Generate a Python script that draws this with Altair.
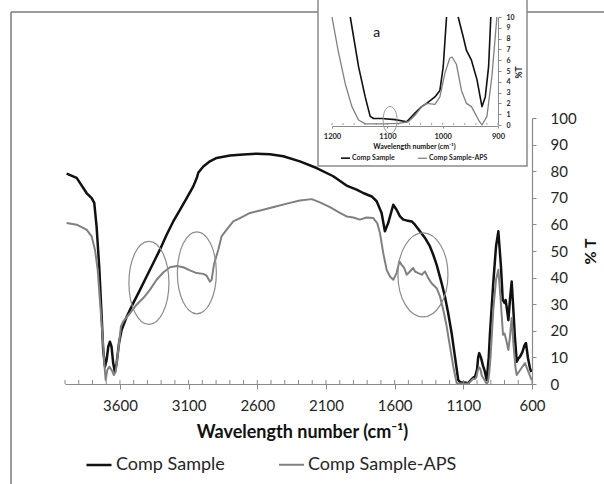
import altair as alt
import pandas as pd

W, H = 604, 484
FONT = "Lato"
AXIS_GRAY = "#8a8a8a"
TEXT = "#262626"

series = ["Comp Sample", "Comp Sample-APS"]
colors = ["#111111", "#808080"]

# ---------------- main spectrum (wavenumber, %T) ----------------
black_wn = [3988, 3915, 3843, 3806, 3787, 3770, 3751, 3733, 3722, 3709, 3697, 3685, 3673, 3661,
            3649, 3637, 3624, 3607, 3588, 3551, 3503, 3454, 3406, 3357, 3309, 3260, 3212, 3163,
            3114, 3066, 3040, 3030, 2993, 2945, 2896, 2799, 2702, 2605, 2508, 2411, 2290, 2168,
            2047, 1950, 1877, 1829, 1767, 1731, 1695, 1671, 1647, 1610, 1586, 1561, 1537, 1513,
            1476, 1452, 1416, 1379, 1343, 1319, 1294, 1258, 1234, 1210, 1185, 1161, 1137, 1120,
            1100, 1080, 1064, 1050, 1030, 1014, 1000, 992, 984, 972, 957, 945, 930, 915, 906,
            882, 862, 845, 826, 813, 800, 792, 782, 772, 760, 748, 738, 725, 711, 700, 687, 670,
            655, 644, 630, 615, 605]
black_t = [79.1, 77.5, 71.8, 69.9, 68.1, 59.2, 44.2, 25.3, 12.8, 6.5, 9.0, 14.0, 15.9, 14.0,
           7.8, 4.6, 7.8, 15.3, 20.3, 25.3, 30.4, 35.4, 40.4, 45.5, 50.5, 56.1, 61.1, 65.5,
           69.9, 74.3, 77.5, 79.4, 81.8, 83.7, 85.0, 85.9, 86.3, 86.6, 86.4, 85.6, 83.7, 81.2,
           78.1, 74.6, 73.1, 71.8, 70.5, 68.7, 64.3, 57.4, 60.5, 67.4, 65.5, 63.0, 61.8, 61.5,
           61.1, 59.9, 57.4, 54.9, 51.7, 48.6, 44.8, 37.9, 32.9, 26.6, 19.1, 10.3, 1.5, 0.6,
           0.6, 0.5, 0.3, 1.2, 2.3, 2.8, 5.5, 10.0, 11.6, 10.0, 6.9, 5.0, 1.5, 10.0, 19.0,
           38.0, 51.7, 57.4, 44.2, 31.6, 30.5, 31.6, 28.0, 24.0, 32.0, 38.5, 30.0, 18.0, 8.4, 9.5,
           10.3, 12.0, 14.5, 15.4, 10.0, 6.0, 4.5]

gray_wn = [3988, 3915, 3843, 3806, 3782, 3762, 3746, 3726, 3714, 3704, 3692, 3678, 3661, 3644,
           3631, 3612, 3593, 3576, 3527, 3479, 3430, 3382, 3333, 3285, 3236, 3187, 3139, 3090,
           3042, 2993, 2969, 2945, 2932, 2916, 2884, 2860, 2823, 2775, 2726, 2653, 2557, 2459,
           2362, 2290, 2204, 2144, 2071, 1998, 1950, 1901, 1853, 1804, 1756, 1727, 1707, 1683,
           1658, 1634, 1610, 1586, 1566, 1549, 1530, 1513, 1489, 1465, 1452, 1428, 1403, 1379,
           1355, 1331, 1294, 1270, 1246, 1221, 1197, 1173, 1148, 1130, 1100, 1080, 1062, 1050,
           1029, 1014, 1005, 996, 984, 975, 966, 948, 935, 929, 920, 911, 902, 882, 862, 845,
           830, 811, 800, 790, 772, 760, 748, 735, 720, 711, 690, 670, 651, 630, 602]
gray_t = [60.5, 59.9, 58.0, 55.5, 50.5, 42.9, 31.6, 17.8, 7.8, 1.5, 5.3, 6.5, 5.3, 3.4,
          4.6, 12.8, 21.6, 23.5, 26.6, 29.8, 32.3, 35.4, 39.2, 41.9, 43.9, 44.4, 43.9, 42.7,
          41.7, 41.4, 40.7, 38.5, 39.2, 44.8, 50.5, 55.5, 58.0, 61.1, 62.4, 64.3, 65.5, 66.8,
          68.1, 69.0, 69.5, 68.3, 66.5, 64.3, 63.0, 62.6, 61.8, 62.6, 62.4, 60.5, 56.8, 49.2,
          42.9, 40.4, 39.2, 41.7, 46.1, 44.8, 43.6, 41.1, 42.3, 43.6, 42.3, 41.7, 41.1, 42.3,
          39.8, 37.9, 36.0, 32.9, 27.9, 21.6, 14.0, 6.5, 0.3, 0.15, 0.2, 0.1, 0.3, 0.9,
          2.0, 1.9, 2.6, 4.8, 6.3, 5.6, 3.2, 1.7, 0.5, 0.1, 0.8, 4.5, 10.0, 27.9, 39.2, 43.0,
          33.0, 18.5, 19.0, 17.0, 12.8, 18.0, 24.8, 15.0, 6.0, 3.4, 5.0, 6.5, 7.9, 5.0, 1.5]

# ---------------- inset (1200-900 cm-1, 0-10 %T) ----------------
inset_black_wn = [1167, 1152, 1140, 1131, 1125, 1110, 1086, 1065, 1050, 1038, 1029, 1014, 1005,
                  999, 993, 972, 963, 957, 948, 938, 929, 923, 917, 913]
inset_black_t = [10.0, 5.4, 2.6, 0.8, 0.6, 0.6, 0.5, 0.3, 1.1, 1.7, 2.0, 2.6, 3.2,
                 5.4, 10.0, 10.0, 8.2, 6.9, 6.0, 4.2, 1.7, 2.6, 5.4, 10.0]
inset_black_seg = [1] * 15 + [2] * 9
inset_gray_wn = [1200, 1189, 1176, 1164, 1152, 1140, 1110, 1080, 1062, 1050, 1038, 1029, 1014,
                 1005, 996, 987, 983, 975, 966, 957, 948, 935, 929, 920, 911, 902]
inset_gray_t = [10.0, 6.9, 3.8, 1.7, 0.46, 0.1, 0.1, 0.15, 0.3, 0.9, 1.7, 2.0, 1.9,
                2.6, 4.8, 6.2, 6.3, 5.6, 3.2, 2.0, 1.7, 0.46, 0.0, 0.8, 4.5, 10.0]

# ellipse annotations: centre (wn, %T), pixel width and height
ell_wn = [3389, 3040, 1394]
ell_t = [38.0, 41.8, 41.0]
ell_w = [40, 39, 50]
ell_h = [83, 82, 84]
inset_ell_wn = [1095]
inset_ell_t = [0.46]
inset_ell_w = [14]
inset_ell_h = [27]

main_ticks = [3600, 3100, 2600, 2100, 1600, 1100, 600]
main_minor = list(range(600, 4001, 100))
inset_ticks = [1200, 1100, 1000, 900]
inset_minor = list(range(900, 1201, 20))


def ellipse_df(wn, t, w, h):
    rows = []
    for a, b, ww, hh in zip(wn, t, w, h):
        r = ww / hh
        path = f"M {-r} 0 A {r} 1 0 1 0 {r} 0 A {r} 1 0 1 0 {-r} 0 Z"
        rows.append({"wn": a, "t": b, "shape": path, "sz": hh * hh})
    return pd.DataFrame(rows)


main_df = pd.concat([
    pd.DataFrame({"wn": black_wn, "t": black_t, "series": series[0]}),
    pd.DataFrame({"wn": gray_wn, "t": gray_t, "series": series[1]}),
])
inset_df = pd.concat([
    pd.DataFrame({"wn": inset_black_wn, "t": inset_black_t, "seg": [f"b{s}" for s in inset_black_seg],
                  "series": series[0]}),
    pd.DataFrame({"wn": inset_gray_wn, "t": inset_gray_t, "seg": "g1", "series": series[1]}),
])

# ---------------- main scales / axes ----------------
mx = alt.X("wn:Q",
           scale=alt.Scale(domain=[4000, 600], range=[65, 532], nice=False, zero=False),
           axis=alt.Axis(orient="bottom", offset=384 - H, values=main_ticks, grid=False, format="d",
                         tickSize=5, tickColor=AXIS_GRAY, domainColor=AXIS_GRAY, domainWidth=1.2,
                         labelFont=FONT, labelFontSize=15, labelColor=TEXT, labelPadding=9,
                         labelFlush=False, labelOverlap=False,
                         title="Wavelength number (cm⁻¹)", titleFont=FONT, titleFontSize=18,
                         titleFontWeight="bold", titleColor="#111", titleX=302, titleY=48,
                         titleAlign="center", titleBaseline="middle", zindex=1))
my = alt.Y("t:Q",
           scale=alt.Scale(domain=[0, 100], range=[384, 118], nice=False, zero=False),
           axis=alt.Axis(orient="right", offset=532 - W, values=list(range(0, 101, 10)), grid=False,
                         format="d",
                         tickSize=4, tickColor=AXIS_GRAY, domainColor=AXIS_GRAY, domainWidth=1.2,
                         labelFont=FONT, labelFontSize=15, labelColor=TEXT, labelPadding=14,
                         labelOverlap=False, labelAlign="left",
                         title="% T", titleFont=FONT, titleFontSize=16, titleFontWeight="bold",
                         titleColor="#111", titleAngle=270, titleX=58, titleY=251,
                         titleAlign="center", titleBaseline="middle", zindex=1))

main_lines = alt.Chart(main_df).mark_line(strokeJoin="round").encode(
    x=mx, y=my,
    color=alt.Color("series:N", scale=alt.Scale(domain=series, range=colors),
                    legend=alt.Legend(orient="none", legendX=85, legendY=451, direction="horizontal",
                                      title=None, symbolType="stroke", symbolSize=625,
                                      symbolStrokeWidth=2.5, labelFont=FONT, labelFontSize=18,
                                      labelColor=TEXT, columnPadding=50, labelOffset=3, padding=0)),
    strokeWidth=alt.StrokeWidth("series:N", scale=alt.Scale(domain=series, range=[2.5, 2.0]),
                                legend=None),
    detail="series:N",
)

main_minor_df = pd.DataFrame({"wn": main_minor, "t": 0.0, "t2": 1.5})
main_minor_rules = alt.Chart(main_minor_df).mark_rule(color=AXIS_GRAY, strokeWidth=1).encode(
    x="wn:Q", y="t:Q", y2="t2:Q")

main_ell = alt.Chart(ellipse_df(ell_wn, ell_t, ell_w, ell_h)).mark_point(
    filled=False, stroke="#8c8c8c", strokeWidth=1.2, opacity=1).encode(
    x="wn:Q", y="t:Q",
    shape=alt.Shape("shape:N", scale=None),
    size=alt.Size("sz:Q", scale=None))

main = alt.layer(main_lines, main_minor_rules, main_ell)

# ---------------- inset ----------------
ix = alt.X("wn:Q",
           scale=alt.Scale(domain=[1200, 900], range=[332, 498], nice=False, zero=False),
           axis=alt.Axis(orient="bottom", offset=126 - H, values=inset_ticks, grid=False, format="d",
                         tickSize=2, tickColor=AXIS_GRAY, domainColor=AXIS_GRAY, domainWidth=1,
                         labelFont=FONT, labelFontSize=7.5, labelFontWeight="bold",
                         labelColor=TEXT, labelPadding=4, labelFlush=False, labelOverlap=False,
                         title="Wavelength number (cm⁻¹)", titleFont=FONT, titleFontSize=7,
                         titleFontWeight="bold", titleColor="#111", titleX=414, titleY=20,
                         titleAlign="center", titleBaseline="middle", zindex=1))
iy = alt.Y("t:Q",
           scale=alt.Scale(domain=[0, 10], range=[125, 17], nice=False, zero=False),
           axis=alt.Axis(orient="right", offset=498 - W, values=list(range(0, 11)), grid=False,
                         format="d",
                         tickSize=3, tickColor=AXIS_GRAY, domainColor=AXIS_GRAY, domainWidth=1,
                         labelFont=FONT, labelFontSize=7, labelFontWeight="bold",
                         labelColor=TEXT, labelPadding=5, labelOverlap=False, labelAlign="left",
                         title="%T", titleFont=FONT, titleFontSize=8.5, titleFontWeight="bold",
                         titleColor="#111", titleAngle=270, titleX=20, titleY=72,
                         titleAlign="center", titleBaseline="middle", zindex=1))

one = pd.DataFrame({"k": [0]})
inset_bg = alt.Chart(one).mark_rect(fill="white", stroke=AXIS_GRAY, strokeWidth=1.5).encode(
    x=alt.value(318), x2=alt.value(527), y=alt.value(-5), y2=alt.value(166))

inset_lines = alt.Chart(inset_df).mark_line(strokeJoin="round").encode(
    x=ix, y=iy,
    color=alt.Color("series:N", scale=alt.Scale(domain=series, range=colors),
                    legend=alt.Legend(orient="none", legendX=340, legendY=152.5,
                                      direction="horizontal", title=None, symbolType="stroke",
                                      symbolSize=81, symbolStrokeWidth=1.3, labelFont=FONT,
                                      labelFontSize=7, labelFontWeight="bold", labelColor=TEXT,
                                      columnPadding=20, labelOffset=1, padding=0)),
    strokeWidth=alt.StrokeWidth("series:N", scale=alt.Scale(domain=series, range=[1.6, 1.3]),
                                legend=None),
    detail="seg:N",
)

inset_minor_df = pd.DataFrame({"wn": inset_minor, "t": 0.0, "t2": 0.2})
inset_minor_rules = alt.Chart(inset_minor_df).mark_rule(color=AXIS_GRAY, strokeWidth=0.8).encode(
    x="wn:Q", y="t:Q", y2="t2:Q")

inset_ell = alt.Chart(ellipse_df(inset_ell_wn, inset_ell_t, inset_ell_w, inset_ell_h)).mark_point(
    filled=False, stroke="#8c8c8c", strokeWidth=0.9, opacity=1).encode(
    x="wn:Q", y="t:Q",
    shape=alt.Shape("shape:N", scale=None),
    size=alt.Size("sz:Q", scale=None))

label_df = pd.DataFrame({"wn": [1119], "t": [8.5], "txt": ["a"]})
inset_label = alt.Chart(label_df).mark_text(font=FONT, fontSize=14, color="#111").encode(
    x="wn:Q", y="t:Q", text="txt:N")

inset = alt.layer(inset_lines, inset_minor_rules, inset_ell, inset_label)

# ---------------- frame ----------------
frame_top = alt.Chart(one).mark_rule(color="#7a7a7a", strokeWidth=1.5).encode(
    x=alt.value(11), x2=alt.value(W), y=alt.value(12))
frame_left = alt.Chart(one).mark_rule(color="#7a7a7a", strokeWidth=1.5).encode(
    x=alt.value(11), y=alt.value(12), y2=alt.value(H))

chart = alt.layer(frame_top, frame_left, main, inset_bg, inset).resolve_scale(
    x="independent", y="independent", color="independent", strokeWidth="independent"
).properties(
    width=W, height=H, padding=0,
    autosize=alt.AutoSizeParams(type="none"),
    background="white",
).configure_view(stroke=None)

chart.save("out.html", embed_options={"renderer": "svg", "actions": False})
